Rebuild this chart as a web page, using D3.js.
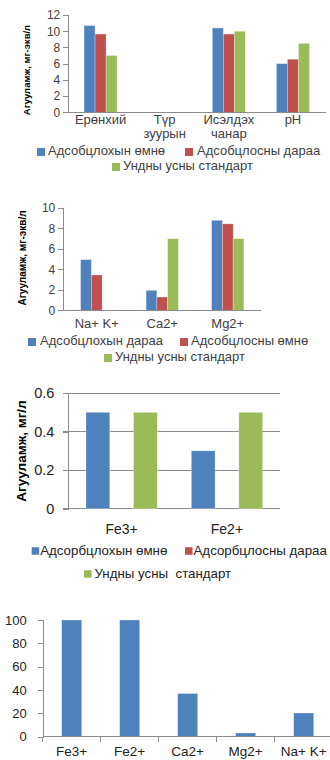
<!DOCTYPE html>
<html>
<head>
<meta charset="utf-8">
<script src="https://cdn.jsdelivr.net/npm/d3@7"></script>
<style>
  html, body { margin: 0; padding: 0; background: #fff; }
  svg { display: block; font-family: "Liberation Sans", Arial, sans-serif; }
  svg text { white-space: pre; }
  .axis path, .axis line { stroke: #8c8c8c; shape-rendering: crispEdges; }
  .grid line { stroke: #8c8c8c; shape-rendering: crispEdges; }
</style>
</head>
<body>
<svg id="chart" width="330" height="760"></svg>
<script>
// ---- Chart 1: general indicators, mg-eq/l ----
const chart1Categories = ["Ерөнхий", "Түр зуурын", "Исэлдэх чанар", "pH"];
const chart1Series = ["Адсобцлохын өмнө", "Адсобцлосны дараа", "Ундны усны стандарт"];
const chart1Before = [10.7, null, 10.4, 6.0];
const chart1After = [9.65, null, 9.65, 6.55];
const chart1Standard = [7.0, null, 10.0, 8.5];
const chart1Ticks = [0, 2, 4, 6, 8, 10, 12];

// ---- Chart 2: cations, mg-eq/l ----
const chart2Categories = ["Na+ K+", "Ca2+", "Mg2+"];
const chart2Series = ["Адсобцлохын дараа", "Адсобцлосны өмнө", "Ундны усны стандарт"];
const chart2Blue = [4.95, 1.95, 8.8];
const chart2Red = [3.45, 1.3, 8.45];
const chart2Standard = [null, 7.0, 7.0];
const chart2Ticks = [0, 2, 4, 6, 8, 10];

// ---- Chart 3: iron, mg/l ----
const chart3Categories = ["Fe3+", "Fe2+"];
const chart3Series = ["Адсорбцлохын өмнө", "Адсорбцлосны дараа", "Ундны усны  стандарт"];
const chart3Before = [0.5, 0.3];
const chart3After = [0, 0];
const chart3Standard = [0.5, 0.5];
const chart3Ticks = [0, 0.2, 0.4, 0.6];
const chart3TickLabels = ["0", "0.2", "0.4", "0.6"];

// ---- Chart 4: removal efficiency, % ----
const chart4Categories = ["Fe3+", "Fe2+", "Ca2+", "Mg2+", "Na+ K+"];
const chart4Values = [100, 100, 37, 3.2, 20.3];
const chart4Ticks = [0, 20, 40, 60, 80, 100];

const colors = ["#4f81bd", "#c0504d", "#9bbb59"];
const svg = d3.select("#chart");

function groupedBars(g, cats, seriesVals, x, y) {
  const sub = d3.scaleBand().domain(d3.range(seriesVals.length)).range([0, x.bandwidth()]);
  const rows = [];
  cats.forEach((c, i) => seriesVals.forEach((vals, s) => {
    if (vals[i] != null && vals[i] > 0) rows.push({ c, s, v: vals[i] });
  }));
  g.append("g").selectAll("rect").data(rows).join("rect")
    .attr("x", d => x(d.c) + sub(d.s))
    .attr("y", d => y(d.v))
    .attr("width", sub.bandwidth())
    .attr("height", d => y(0) - y(d.v))
    .attr("fill", d => colors[d.s])
    .attr("stroke", "rgba(255,255,255,0.45)")
    .attr("stroke-width", 0.6);
}

function yAxis(g, y, ticks, x0, opts) {
  const ax = g.append("g").attr("class", "axis")
    .attr("transform", `translate(${x0},0)`)
    .call(d3.axisLeft(y).tickValues(ticks).tickSize(5).tickPadding(opts.pad)
      .tickFormat((d, i) => opts.labels ? opts.labels[i] : d));
  ax.selectAll("text").attr("fill", opts.color).attr("font-size", opts.size)
    .attr("font-family", "Liberation Sans, Arial, sans-serif");
  return ax;
}

function xLine(g, x0, x1, yv) {
  g.append("line").attr("x1", x0).attr("x2", x1).attr("y1", yv).attr("y2", yv)
    .attr("stroke", "#8c8c8c").attr("shape-rendering", "crispEdges");
}

function catLabels(g, cats, x, yBase, size, color, wrap) {
  const t = g.append("g").selectAll("text").data(cats).join("text")
    .attr("x", d => x(d) + x.bandwidth() / 2)
    .attr("y", yBase)
    .attr("text-anchor", "middle")
    .attr("font-size", size)
    .attr("fill", color);
  t.each(function (d) {
    const parts = wrap ? d.split(" ") : [d];
    const el = d3.select(this);
    parts.forEach((p, k) => el.append("tspan")
      .attr("x", x(d) + x.bandwidth() / 2)
      .attr("dy", k === 0 ? 0 : "1.1em").text(p));
  });
}

function yTitle(g, text, cx, cy, size) {
  g.append("text")
    .attr("transform", `translate(${cx},${cy}) rotate(-90)`)
    .attr("text-anchor", "middle").attr("dominant-baseline", "middle")
    .attr("font-size", size).attr("font-weight", "bold").attr("fill", "#000")
    .text(text);
}

function legendItem(g, label, color, sx, cy, box, size, textColor, gap) {
  g.append("rect").attr("x", sx).attr("y", cy - box / 2).attr("width", box).attr("height", box)
    .attr("fill", color);
  g.append("text").attr("x", sx + box + gap).attr("y", cy)
    .attr("dominant-baseline", "middle").attr("font-size", size).attr("fill", textColor)
    .text(label);
}

// ===== Chart 1 =====
{
  const g = svg.append("g");
  const x = d3.scaleBand().domain(chart1Categories).range([68.5, 325]).paddingInner(0.485).paddingOuter(0.2425);
  const y = d3.scaleLinear().domain([0, 12]).range([112.3, 15]);
  yAxis(g, y, chart1Ticks, 68.3, { pad: 3, color: "#404040", size: 12 });
  groupedBars(g, chart1Categories, [chart1Before, chart1After, chart1Standard], x, y);
  xLine(g, 68.3, 326, y(0));
  catLabels(g, chart1Categories, x, 124, 13, "#404040", true);
  yTitle(g, "Агууламж, мг-экв/л", 27, 70, 9.5);
  legendItem(g, chart1Series[0], colors[0], 37, 152, 8, 13, "#404040", 3);
  legendItem(g, chart1Series[1], colors[1], 185, 152, 8, 13, "#404040", 4);
  legendItem(g, chart1Series[2], colors[2], 112, 167, 8, 13, "#404040", 3);
}

// ===== Chart 2 =====
{
  const g = svg.append("g");
  const x = d3.scaleBand().domain(chart2Categories).range([64, 260.5]).paddingInner(0.507).paddingOuter(0.2535);
  const y = d3.scaleLinear().domain([0, 10]).range([310.3, 208]);
  yAxis(g, y, chart2Ticks, 63.3, { pad: 3, color: "#404040", size: 12 });
  groupedBars(g, chart2Categories, [chart2Blue, chart2Red, chart2Standard], x, y);
  xLine(g, 63.3, 260.7, y(0));
  catLabels(g, chart2Categories, x, 328, 13, "#404040", false);
  yTitle(g, "Агууламж, мг-экв/л", 23, 258, 10);
  legendItem(g, chart2Series[0], colors[0], 28, 342, 8, 13, "#404040", 4);
  legendItem(g, chart2Series[1], colors[1], 180, 342, 8, 13, "#404040", 3);
  legendItem(g, chart2Series[2], colors[2], 104, 358, 8, 13, "#404040", 3);
}

// ===== Chart 3 =====
{
  const g = svg.append("g");
  const x = d3.scaleBand().domain(chart3Categories).range([69, 279.6]).paddingInner(0.323).paddingOuter(0.1615);
  const y = d3.scaleLinear().domain([0, 0.6]).range([508.7, 393]);
  g.append("g").attr("class", "grid").selectAll("line").data(chart3Ticks).join("line")
    .attr("x1", 63.3).attr("x2", 279.5).attr("y1", d => y(d)).attr("y2", d => y(d));
  yAxis(g, y, chart3Ticks, 68.3, { pad: 9, color: "#222", size: 14.5, labels: chart3TickLabels });
  groupedBars(g, chart3Categories, [chart3Before, chart3After, chart3Standard], x, y);
  catLabels(g, chart3Categories, x, 534, 14, "#222", false);
  yTitle(g, "Агууламж, мг/л", 22, 451, 13.5);
  legendItem(g, chart3Series[0], colors[0], 31.7, 551, 7.5, 13.3, "#222", 1);
  legendItem(g, chart3Series[1], colors[1], 185, 551, 7.5, 13.3, "#222", 1);
  legendItem(g, chart3Series[2], colors[2], 84, 574, 7.5, 13.3, "#222", 3);
}

// ===== Chart 4 =====
{
  const g = svg.append("g");
  const x = d3.scaleBand().domain(chart4Categories).range([42.7, 332.7]).paddingInner(0.655).paddingOuter(0.3275);
  const y = d3.scaleLinear().domain([0, 100]).range([736.7, 620]);
  yAxis(g, y, chart4Ticks, 42.7, { pad: 11, color: "#222", size: 13 });
  groupedBars(g, chart4Categories, [chart4Values], x, y);
  xLine(g, 42.7, 330, y(0));
  // category boundary ticks under the axis
  const bounds = chart4Categories.map(c => x(c) - x.step() * x.paddingInner() / 2);
  g.append("g").selectAll("line").data(bounds).join("line")
    .attr("x1", d => d).attr("x2", d => d)
    .attr("y1", y(0)).attr("y2", y(0) + 5)
    .attr("stroke", "#8c8c8c").attr("shape-rendering", "crispEdges");
  catLabels(g, chart4Categories, x, 756, 13.5, "#222", false);
}
</script>
</body>
</html>
